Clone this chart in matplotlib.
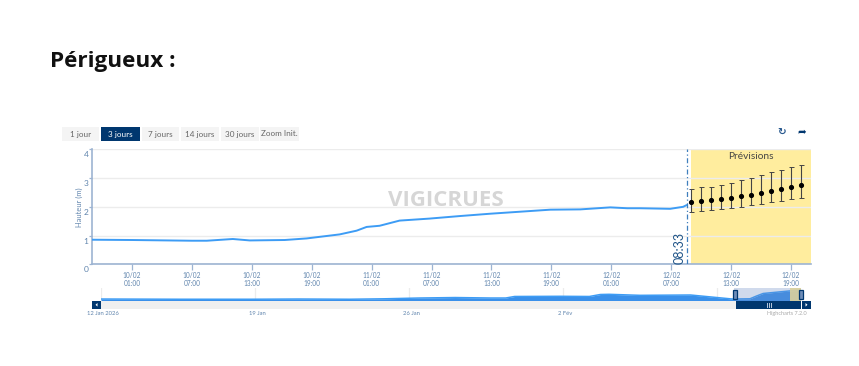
import matplotlib
matplotlib.use("Agg")
import matplotlib.pyplot as plt
from matplotlib.patches import Rectangle, Polygon

# ---- data ----
obs_hours = [-3, 1, 7, 8.5, 11.1, 12.8, 16.3, 18.5, 21.8, 23.5, 24.5, 25.8, 27.8, 30.8, 33.9,
             36.9, 39.9, 42.9, 45.9, 48.9, 50.6, 51.9, 54.9, 56.2, 56.55]
obs_height = [0.855, 0.845, 0.82, 0.82, 0.88, 0.83, 0.845, 0.90, 1.04, 1.17, 1.30, 1.34, 1.52, 1.59, 1.68,
              1.76, 1.83, 1.90, 1.91, 1.98, 1.95, 1.95, 1.93, 2.00, 2.06]
fc_hours = [57, 58, 59, 60, 61, 62, 63, 64, 65, 66, 67, 68]
fc_med = [2.155, 2.19, 2.22, 2.26, 2.30, 2.36, 2.42, 2.47, 2.54, 2.62, 2.69, 2.75]
fc_low = [1.83, 1.85, 1.90, 1.92, 1.96, 1.99, 2.06, 2.11, 2.17, 2.21, 2.26, 2.32]
fc_high = [2.62, 2.68, 2.70, 2.76, 2.83, 2.92, 2.99, 3.09, 3.20, 3.28, 3.37, 3.44]
tick_hours = [1, 7, 13, 19, 25, 31, 37, 43, 49, 55, 61, 67]
tick_labels = ["10/02\n01:00", "10/02\n07:00", "10/02\n13:00", "10/02\n19:00",
               "11/02\n01:00", "11/02\n07:00", "11/02\n13:00", "11/02\n19:00",
               "12/02\n01:00", "12/02\n07:00", "12/02\n13:00", "12/02\n19:00"]
y_ticks = [0, 1, 2, 3, 4]
nav_days = [0, 3.6, 6.8, 9, 11.3, 12.9, 14.5, 16.1, 17.7, 18.4, 18.8, 20.9, 22.2, 22.7, 23.1,
            24.5, 26.8, 28.7, 29.5, 29.8, 30.1, 31.3, 31.8]
nav_height = [0.85, 0.8, 0.8, 0.85, 0.8, 0.9, 1.07, 1.17, 1.07, 1.07, 1.4, 1.44, 1.4, 1.83, 1.87,
              1.65, 1.72, 0.85, 0.9, 1.5, 2.05, 2.6, 2.8]
nav_tick_days = [0, 7, 14, 21, 28]
nav_tick_labels = ["12 Jan 2026", "19 Jan", "26 Jan", "2 Fév", ""]
buttons = ["1 jour", "3 jours", "7 jours", "14 jours", "30 jours", "Zoom Init."]
button_edges = [(62, 99), (101, 140), (142, 179), (181, 219), (221, 259), (260, 299)]

W, H = 859, 366
AXC = "#9db4d2"
TXT = "#5f84ad"
NAVY = "#00376f"
BLUE = "#3d9cf5"
FONT = "Lato"
plt.rcParams["font.family"] = [FONT, "DejaVu Sans"]

fig = plt.figure(figsize=(W / 100, H / 100), dpi=100, facecolor="white")

def box(l, t, r, b):
    return [l / W, 1 - b / H, (r - l) / W, (b - t) / H]

# ---- main axes ----
ax = fig.add_axes(box(92, 149.3, 811, 264.3))
ax.set_xlim(-3, 69)
ax.set_ylim(0, 4)
ax.axvspan(57, 69, color="#ffed9e", lw=0, zorder=0)
ax.set_yticks(y_ticks)
ax.set_yticklabels([])
ax.set_xticks(tick_hours)
ax.set_xticklabels(tick_labels, fontsize=4.7, color=TXT, linespacing=1.2)
ax.tick_params(axis="x", length=4, width=0.9, color=AXC, pad=1.2)
ax.tick_params(axis="y", length=2.5, width=0.9, color=AXC)
ax.grid(axis="y", color="#ececec", lw=1, zorder=1)
for s in ["top", "right"]:
    ax.spines[s].set_visible(False)
for s in ["left", "bottom"]:
    ax.spines[s].set_color(AXC)
    ax.spines[s].set_linewidth(1.2)
for v in y_ticks:
    ax.annotate(str(v), (0, v), xycoords=("axes fraction", "data"), xytext=(-2.5, -4),
                textcoords="offset points", ha="right", va="center", fontsize=6, color=TXT)
ax.plot(obs_hours, obs_height, color=BLUE, lw=1.4, zorder=3, solid_capstyle="round")
ax.axvline(56.55, color="#3f7fbd", lw=0.9, ls=(0, (4, 2, 1, 2)), zorder=3)
ax.errorbar(fc_hours, fc_med,
            yerr=[[m - l for m, l in zip(fc_med, fc_low)], [h - m for h, m in zip(fc_high, fc_med)]],
            fmt="o", color="black", ms=2.7, ecolor="#444444", elinewidth=0.8,
            capsize=1.8, capthick=0.7, zorder=4)

# ---- navigator ----
nav = fig.add_axes(box(101, 288, 801, 301))
nav.set_xlim(0, 31.82)
nav.set_ylim(0.42, 3.24)
nav.patch.set_visible(False)
for s in nav.spines.values():
    s.set_visible(False)
nav.set_yticks([])
nav.set_xticks(nav_tick_days)
nav.set_xticklabels([])
nav.tick_params(axis="x", length=0)
nav.grid(axis="x", color="#ececec", lw=0.9, zorder=0)
nav.fill_between(nav_days, nav_height, 0.42, color="#3a90ea", lw=0, zorder=2)
nav.plot(nav_days, nav_height, color=BLUE, lw=1.1, zorder=3)
nav.axvspan(28.77, 31.82, color="#6685c2", alpha=0.3, lw=0, zorder=4)
nav.axvspan(31.3, 31.82, color="#dcd29c", alpha=0.9, lw=0, zorder=5)
for d, lab in zip(nav_tick_days, nav_tick_labels):
    nav.annotate(lab, (d, 0), xycoords=("data", "axes fraction"), xytext=(1.5, -9),
                 textcoords="offset points", ha="center", va="center", fontsize=4.2, color=TXT)

# ---- interface chrome, in pixel coordinates ----
ui = fig.add_axes([0, 0, 1, 1], zorder=10)
ui.set_xlim(0, W)
ui.set_ylim(H, 0)
ui.axis("off")
ui.patch.set_visible(False)

ui.text(50, 62, "Périgueux :", fontsize=16.2, fontweight="bold", family="Open Sans",
        color="#111111", va="center", ha="left")

for i, (lab, (l, r)) in enumerate(zip(buttons, button_edges)):
    active = i == 1
    ui.add_patch(Rectangle((l, 127), r - l, 14, fc=NAVY if active else "#f4f4f4", lw=0))
    ui.text((l + r) / 2, 136.5, lab, fontsize=5.9, ha="center", va="baseline",
            color="white" if active else "#666666")

ui.text(782, 131.5, "\u21bb", family="DejaVu Sans", fontsize=7.5, color="#2a5a8f",
        ha="center", va="center", fontweight="bold")
ui.text(802, 131.5, "\u27a6", family="DejaVu Sans", fontsize=7.5, color=NAVY, ha="center", va="center")

ui.text(446, 201, "VIGICRUES", fontsize=16, fontweight="bold", family="Open Sans",
        color="#d6d6d6", ha="center", va="center", zorder=0.5)
ui.text(750.5, 156.7, "Prévisions", fontsize=7.3, color="#444444", ha="center", va="center")
ui.text(79.5, 207, "Hauteur (m)", fontsize=5.4, color=TXT, rotation=90, ha="center", va="center")
ui.text(680, 264, "08:33", fontsize=9, color="#1f5488", rotation=90, ha="center", va="bottom")

# scrollbar
ui.add_patch(Rectangle((101, 300.5), 635, 8.5, fc="#efefef", lw=0))
ui.add_patch(Rectangle((92, 300.5), 9, 8.5, fc=NAVY, lw=0))
ui.add_patch(Polygon([(97.5, 303), (95.5, 304.8), (97.5, 306.6)], fc="white", lw=0))
ui.add_patch(Rectangle((736, 300.5), 65, 8.5, fc=NAVY, lw=0))
ui.add_patch(Rectangle((802, 300.5), 9, 8.5, fc=NAVY, lw=0))
ui.add_patch(Polygon([(805.5, 303), (807.5, 304.8), (805.5, 306.6)], fc="white", lw=0))
for x in (766.5, 768.5, 770.5):
    ui.plot([x, x], [303, 306.5], color="#b9c9dd", lw=0.7)
# navigator handles
for x in (735, 801):
    ui.add_patch(Rectangle((x - 2, 290), 4, 8.5, fc="#6f8db8", ec=NAVY, lw=0.9))

ui.text(807, 314, "Highcharts 7.2.0", fontsize=4, color="#aaaaaa", ha="right", va="center")

fig.savefig("out.png", dpi=100, facecolor="white")
